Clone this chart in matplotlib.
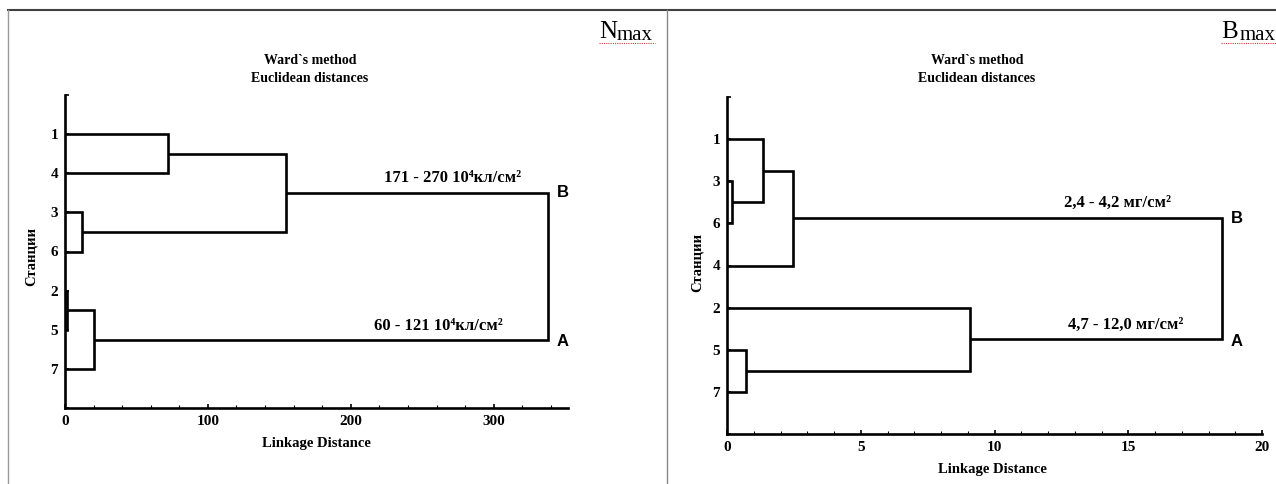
import matplotlib
matplotlib.use("Agg")
from matplotlib import pyplot as plt
from matplotlib.lines import Line2D
from matplotlib.ticker import MultipleLocator

# Nmax dendrogram: leaf order top->bottom, merges (child_a, child_b, height)
# leaves are 0..6, merged clusters get ids 7, 8, ...
n_leaves = ['1', '4', '3', '6', '2', '5', '7']
n_merges = [(0, 1, 72), (2, 3, 12), (4, 5, 1.3), (9, 6, 20), (7, 8, 155), (11, 10, 338)]
n_labels = ['171 - 270 10⁴кл/см²', '60 - 121 10⁴кл/см²']
n_label_x = [271, 261]

# Bmax dendrogram
b_leaves = ['1', '3', '6', '4', '2', '5', '7']
b_merges = [(1, 2, 0.2), (0, 7, 1.35), (8, 3, 2.45), (5, 6, 0.7), (4, 10, 9.1), (9, 11, 18.5)]
b_labels = ['2,4 - 4,2 мг/см²', '4,7 - 12,0 мг/см²']
b_label_x = [14.6, 14.9]

SERIF = 'Liberation Serif'
SANS = 'Liberation Sans'
LW = 1.9

W, H = 1276, 484


def fx(px):
    return px / W


def fy(py):
    return 1 - py / H


def drawDendrogram(ax, leaves, merges):
    nodes = {i: (i + 1, 0.0) for i in range(len(leaves))}
    nid = len(leaves)
    for a, b, h in merges:
        ya, ha = nodes[a]
        yb, hb = nodes[b]
        ax.plot([ha, h, h, hb], [ya, ya, yb, yb], color='black', lw=LW,
                solid_joinstyle='miter', solid_capstyle='butt', clip_on=False, zorder=3)
        nodes[nid] = ((ya + yb) / 2, h)
        nid += 1
    # the two top clusters (B above, A below)
    a, b, h = merges[-1]
    return nodes[a][0], nodes[b][0], h


def styleAxis(ax, xmax, major, minor, leaves):
    ax.set_xlim(0, xmax)
    ax.set_ylim(8, 0)
    for s in ['top', 'right']:
        ax.spines[s].set_visible(False)
    for s in ['left', 'bottom']:
        ax.spines[s].set_linewidth(LW)
    ax.xaxis.set_major_locator(MultipleLocator(major))
    ax.xaxis.set_minor_locator(MultipleLocator(minor))
    ax.set_yticks(range(0, 9))
    ax.set_yticklabels([''] + leaves + [''])
    ax.tick_params(axis='both', which='major', direction='in', length=3, width=1.2, pad=5)
    ax.tick_params(axis='x', which='minor', direction='in', length=2, width=0.8)
    for lab in ax.get_xticklabels() + ax.get_yticklabels():
        lab.set_family(SERIF)
        lab.set_fontweight('bold')
        lab.set_fontsize(11)


fig = plt.figure(figsize=(W / 100, H / 100), dpi=100)

axN = fig.add_axes([fx(65), fy(408), fx(503), 313 / H])
axB = fig.add_axes([fx(727), fy(434), fx(535), 337 / H])

panels = [
    (axN, n_leaves, n_merges, n_labels, n_label_x, 352, 100, 20),
    (axB, b_leaves, b_merges, b_labels, b_label_x, 20, 5, 1),
]

for ax, leaves, merges, labels, lx, xmax, major, minor in panels:
    styleAxis(ax, xmax, major, minor, leaves)
    yB, yA, top = drawDendrogram(ax, leaves, merges)
    ax.annotate('B', (top, yB), xytext=(9, 0), textcoords='offset pixels',
                ha='left', va='center', family=SANS, fontweight='bold', fontsize=12)
    ax.annotate('A', (top, yA), xytext=(9, -2), textcoords='offset pixels',
                ha='left', va='center', family=SANS, fontweight='bold', fontsize=12)
    ax.annotate(labels[0], (lx[0], yB), xytext=(0, 7), textcoords='offset pixels',
                ha='center', va='bottom', family=SERIF, fontweight='bold', fontsize=12)
    ax.annotate(labels[1], (lx[1], yA), xytext=(0, 6), textcoords='offset pixels',
                ha='center', va='bottom', family=SERIF, fontweight='bold', fontsize=12)

# titles, axis labels
for cx, ty in [(310, 60), (977, 61)]:
    fig.text(fx(cx), fy(ty), 'Ward`s method', ha='center', va='center',
             family=SERIF, fontweight='bold', fontsize=10)
    fig.text(fx(cx), fy(ty + 18), 'Euclidean distances', ha='center', va='center',
             family=SERIF, fontweight='bold', fontsize=10)

fig.text(fx(316), fy(444), 'Linkage Distance', ha='center', va='center',
         family=SERIF, fontweight='bold', fontsize=10.5)
fig.text(fx(992), fy(469), 'Linkage Distance', ha='center', va='center',
         family=SERIF, fontweight='bold', fontsize=10.5)
fig.text(fx(31), fy(257), 'Станции', ha='center', va='center', rotation=90,
         family=SERIF, fontweight='bold', fontsize=10.5)
fig.text(fx(697), fy(262), 'Станции', ha='center', va='center', rotation=90,
         family=SERIF, fontweight='bold', fontsize=10.5)

# panel tags Nmax / Bmax
for letter, x0, x1, x2 in [('N', 599, 617, 655), ('B', 1221, 1240, 1276)]:
    fig.text(fx(x0), fy(38), letter, ha='left', va='baseline', family=SERIF, fontsize=18)
    fig.text(fx(x1), fy(40), 'max', ha='left', va='baseline', family=SERIF, fontsize=15)
    fig.add_artist(Line2D([fx(x0), fx(x2)], [fy(43), fy(43)], color='#d04040',
                          lw=0.8, ls=(0, (1, 1))))

# page frame lines
fig.add_artist(Line2D([fx(8), 1], [fy(10), fy(10)], color='#404040', lw=1.5))
fig.add_artist(Line2D([fx(8), fx(8)], [0, fy(10)], color='#999999', lw=1))
fig.add_artist(Line2D([fx(667), fx(667)], [0, fy(10)], color='#888888', lw=1))

plt.savefig('out.png', dpi=100)
